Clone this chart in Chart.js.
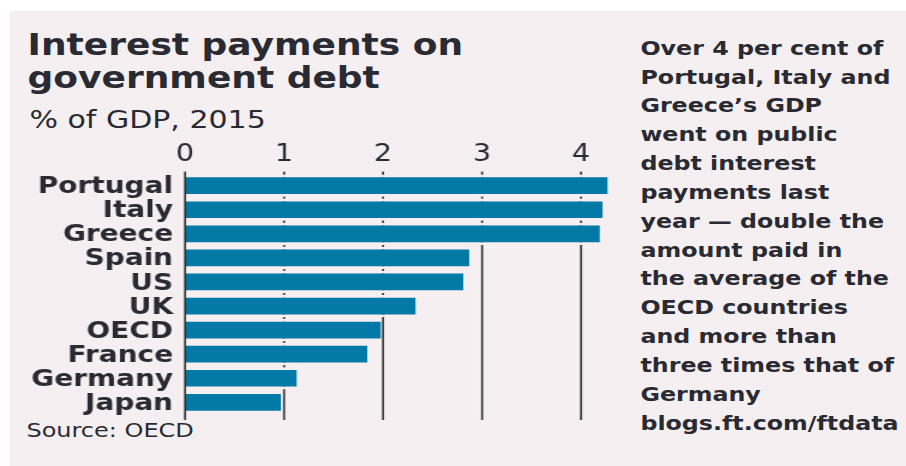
<!DOCTYPE html>
<html>
<head>
<meta charset="utf-8">
<script src="https://cdn.jsdelivr.net/npm/chart.js@4"></script>
<style>
    html, body { margin: 0; padding: 0; background: #fff; width: 906px; height: 466px; overflow: hidden; }
    /* whole graphic is laid out narrow and widened, which gives the wide type */
    #page { position: absolute; left: 0; top: 0; width: 755px; height: 466px; transform: scaleX(1.2); transform-origin: 0 0; font-family: 'DejaVu Sans', sans-serif; color: #2a2a33; }
    #panel { position: absolute; left: 7.5px; top: 11px; right: 0; bottom: 0; background: #f5eff1; }
    .t { position: absolute; white-space: nowrap; }
    #title { left: 23px; top: 28.1px; font-size: 30px; font-weight: bold; line-height: 33px; }
    #sub { left: 24.5px; top: 107.2px; font-size: 25px; line-height: 25px; }
    #source { left: 22px; top: 419.9px; font-size: 20px; line-height: 20px; }
    #note { left: 533.7px; top: 34.7px; font-size: 19.8px; font-weight: bold; line-height: 28.85px; }
    canvas { position: absolute; left: 0; top: 0; }
</style>
</head>
<body>
<div id="page">
    <div id="panel"></div>
    <div class="t" id="title">Interest payments on<br>government debt</div>
    <div class="t" id="sub">% of GDP, 2015</div>
    <div class="t" id="source">Source: OECD</div>
    <div class="t" id="note">Over 4 per cent of<br>Portugal, Italy and<br>Greece’s GDP<br>went on public<br>debt interest<br>payments last<br>year — double the<br>amount paid in<br>the average of the<br>OECD countries<br>and more than<br>three times that of<br>Germany<br>blogs.ft.com/ftdata</div>
    <canvas id="chart" width="755" height="466"></canvas>
</div>
<script>
// Interest payments, % of GDP, 2015
const COUNTRIES = ['Portugal', 'Italy', 'Greece', 'Spain', 'US', 'UK', 'OECD', 'France', 'Germany', 'Japan'];
const PAYMENTS = [4.27, 4.22, 4.19, 2.87, 2.81, 2.33, 1.98, 1.84, 1.13, 0.97];
const X_TICKS = [0, 1, 2, 3, 4];
const X_MAX = 4.3;

const BG = '#f5eff1';
const BAR = '#0079a6';
const INK = '#2a2a33';
const RULE = '#333333';

// Vertical rules run a bit past the plot area; the bars (with a
// background-coloured edge) hide them except for small dots in the gaps.
const rules = {
    id: 'rules',
    beforeDatasetsDraw(chart) {
        drawRules(chart, t => t.value !== 0);
    },
    afterDatasetsDraw(chart) {
        drawRules(chart, t => t.value === 0);
    }
};

function drawRules(chart, keep) {
    const { ctx, chartArea, scales: { x } } = chart;
    ctx.save();
    ctx.strokeStyle = RULE;
    ctx.lineWidth = 1.7;
    x.ticks.filter(keep).forEach(t => {
        const px = x.getPixelForValue(t.value);
        ctx.beginPath();
        ctx.moveTo(px, chartArea.top - 2);
        ctx.lineTo(px, chartArea.bottom + 5.6);
        ctx.stroke();
    });
    ctx.restore();
}

new Chart(document.getElementById('chart'), {
    type: 'bar',
    data: {
        labels: COUNTRIES,
        datasets: [{
            data: PAYMENTS,
            backgroundColor: BAR,
            borderColor: BG,
            borderWidth: { top: 2.8, bottom: 2.8, left: 0, right: 0 },
            borderSkipped: false,
            inflateAmount: 0,
            barPercentage: 0.925,
            categoryPercentage: 1
        }]
    },
    options: {
        indexAxis: 'y',
        responsive: false,
        animation: false,
        layout: { padding: { left: 0, top: 0, right: 246.05, bottom: 51.6 } },
        plugins: {
            legend: { display: false },
            tooltip: { enabled: false }
        },
        scales: {
            x: {
                position: 'top',
                min: 0,
                max: X_MAX,
                grid: { display: false, drawTicks: false },
                border: { display: false },
                afterBuildTicks: scale => { scale.ticks = X_TICKS.map(v => ({ value: v })); },
                afterFit: scale => { scale.height = 173.6; },
                ticks: {
                    padding: 4,
                    color: INK,
                    font: { family: 'DejaVu Sans', size: 24 }
                }
            },
            y: {
                grid: { display: false, drawTicks: false },
                border: { display: false },
                afterFit: scale => { scale.width = 154.2; },
                ticks: {
                    autoSkip: false,
                    padding: 10,
                    labelOffset: 1.5,
                    color: INK,
                    font: { family: 'DejaVu Sans', size: 23.3, weight: 'bold' }
                }
            }
        }
    },
    plugins: [rules]
});
</script>
</body>
</html>
